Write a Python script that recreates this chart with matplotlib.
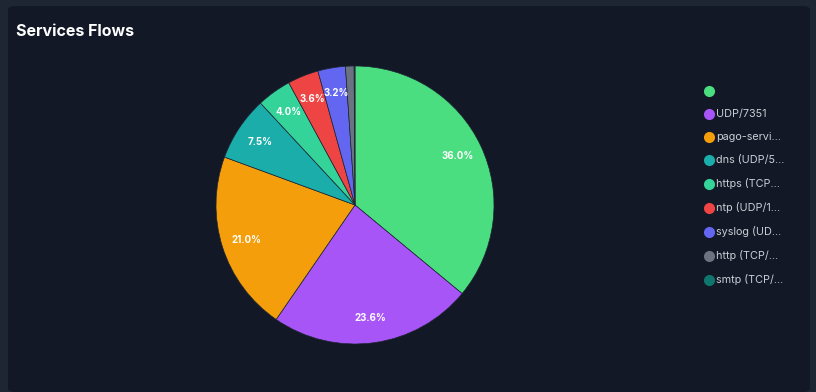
import matplotlib.pyplot as plt
from matplotlib.lines import Line2D
from matplotlib.patches import FancyBboxPatch

# service flow shares (percent), clockwise from 12 o'clock
services = ['', 'UDP/7351', 'pago-servi\u2026', 'dns (UDP/5\u2026', 'https (TCP\u2026',
            'ntp (UDP/1\u2026', 'syslog (UD\u2026', 'http (TCP/\u2026', 'smtp (TCP/\u2026']
shares = [36.0, 23.6, 21.0, 7.5, 4.0, 3.6, 3.2, 1.0, 0.1]
colors = ['#4ade80', '#a855f7', '#f59e0b', '#1aadaa', '#34d399',
          '#ef4444', '#6366f1', '#6b7280', '#0f766e']

W, H = 816, 392
fig = plt.figure(figsize=(W / 100, H / 100), dpi=100)
fig.patch.set_facecolor('#1e2533')

# card background
card = FancyBboxPatch((8 / W, 0), 802 / W, (H - 6) / H,
                      boxstyle='round,pad=0,rounding_size=0.01',
                      transform=fig.transFigure, facecolor='#121826',
                      edgecolor='none', zorder=-5)
fig.patches.append(card)

fig.text(16 / W, 1 - 31 / H, 'Services Flows', color='white', fontsize=11.5,
         fontweight='bold', family='Inter', va='center', ha='left')

cx, cy, r = 355, 205, 139
ax = fig.add_axes([(cx - r) / W, (H - cy - r) / H, 2 * r / W, 2 * r / H])
ax.set_facecolor('none')
ax.set_zorder(2)


def fmt(p):
    return f'{p:.1f}%' if p >= 3 else ''


wedges, texts, autotexts = ax.pie(
    shares, colors=colors, startangle=90, counterclock=False,
    autopct=fmt, pctdistance=0.82, radius=1,
    wedgeprops=dict(edgecolor='#1e2533', linewidth=0.5))
for t in autotexts:
    t.set_color('white')
    t.set_fontsize(7)
    t.set_fontweight('bold')
    t.set_family('Inter')
ax.set_xlim(-1, 1)
ax.set_ylim(-1, 1)
ax.set_aspect('equal')
ax.axis('off')

handles = [Line2D([0], [0], marker='o', linestyle='none', markersize=8,
                  markerfacecolor=c, markeredgecolor='none') for c in colors]
leg = fig.legend(handles, services, loc='upper left',
                 bbox_to_anchor=(699 / W, 1 - 82 / H), frameon=False,
                 fontsize=7.8, labelspacing=1.2, handletextpad=0.15,
                 handlelength=1.0, borderaxespad=0)
leg.set_zorder(3)
for t in leg.get_texts():
    t.set_color('#c9ced6')
    t.set_family('Inter')

fig.savefig('out.png', dpi=100, facecolor=fig.get_facecolor())
